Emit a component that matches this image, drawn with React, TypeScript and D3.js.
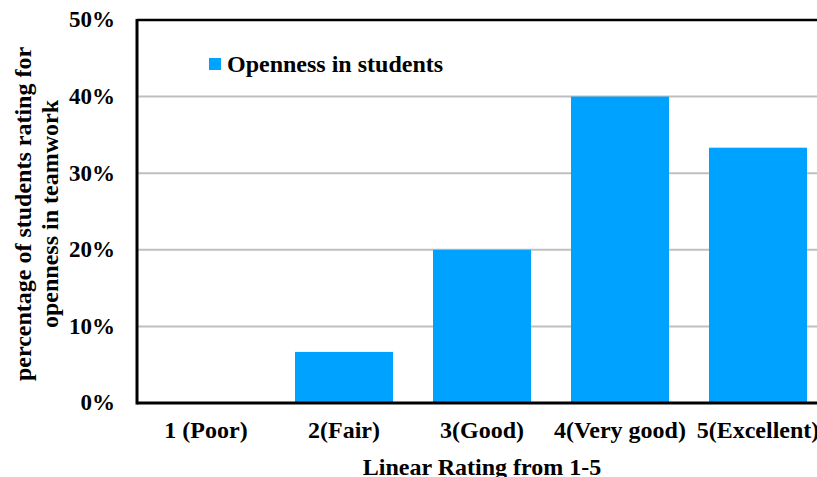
import React from "react";
import * as d3 from "d3";

const categories = ["1 (Poor)", "2(Fair)", "3(Good)", "4(Very good)", "5(Excellent)"];
const openness = [0, 0.0667, 0.2, 0.4, 0.3333];
const yTicks = [0, 0.1, 0.2, 0.3, 0.4, 0.5];
const seriesName = "Openness in students";
const xTitle = "Linear Rating from 1-5";
const yTitleLines = ["percentage of students rating for", "openness in teamwork"];

const W = 817;
const H = 477;
const left = 137;
const top = 20;
const bottom = 403;
const step = 138;
const right = left + step * categories.length;
const FONT = "'Liberation Serif', 'Times New Roman', serif";
const BAR = "#00A2FF";

export default function App() {
  const x = d3.scaleBand<string>().domain(categories).range([left, right]).paddingInner(40 / 138).paddingOuter(20 / 138);
  const y = d3.scaleLinear().domain([0, 0.5]).range([bottom, top]);
  const fmt = d3.format(".0%");
  const yMid = 214;

  return (
    <svg width={W} height={H} style={{ position: "fixed", left: 0, top: 0, background: "#fff" }} fontFamily={FONT} fontWeight="bold">
      {/* gridlines */}
      {yTicks.filter((t) => t > 0 && t < 0.5).map((t) => (
        <line key={t} x1={left} x2={W} y1={y(t)} y2={y(t)} stroke="#BFBFBF" strokeWidth={2} />
      ))}
      {/* bars */}
      {categories.map((c, i) => (
        <rect key={c} x={x(c)} width={x.bandwidth()} y={y(openness[i])} height={bottom - y(openness[i])} fill={BAR} />
      ))}
      {/* frame */}
      <line x1={left} x2={W} y1={y(0.5)} y2={y(0.5)} stroke="#000" strokeWidth={2.5} />
      <line x1={left} x2={W} y1={bottom} y2={bottom} stroke="#000" strokeWidth={3} />
      <line x1={left} x2={left} y1={top - 1} y2={bottom + 1.5} stroke="#000" strokeWidth={3} />
      {/* y ticks */}
      {yTicks.map((t) => (
        <text key={t} x={115} y={y(t)} dy="0.32em" textAnchor="end" fontSize={23}>{fmt(t)}</text>
      ))}
      {/* x labels */}
      {categories.map((c) => (
        <text key={c} x={(x(c) as number) + x.bandwidth() / 2} y={438} textAnchor="middle" fontSize={24}>{c}</text>
      ))}
      <text x={482} y={475} textAnchor="middle" fontSize={24}>{xTitle}</text>
      {/* y title */}
      {yTitleLines.map((s, i) => (
        <text key={s} transform={`translate(${31 + i * 27},${yMid}) rotate(-90)`} textAnchor="middle" fontSize={24}>{s}</text>
      ))}
      {/* legend */}
      <rect x={209} y={58} width={12} height={12} fill={BAR} />
      <text x={227} y={72} fontSize={24}>{seriesName}</text>
    </svg>
  );
}
